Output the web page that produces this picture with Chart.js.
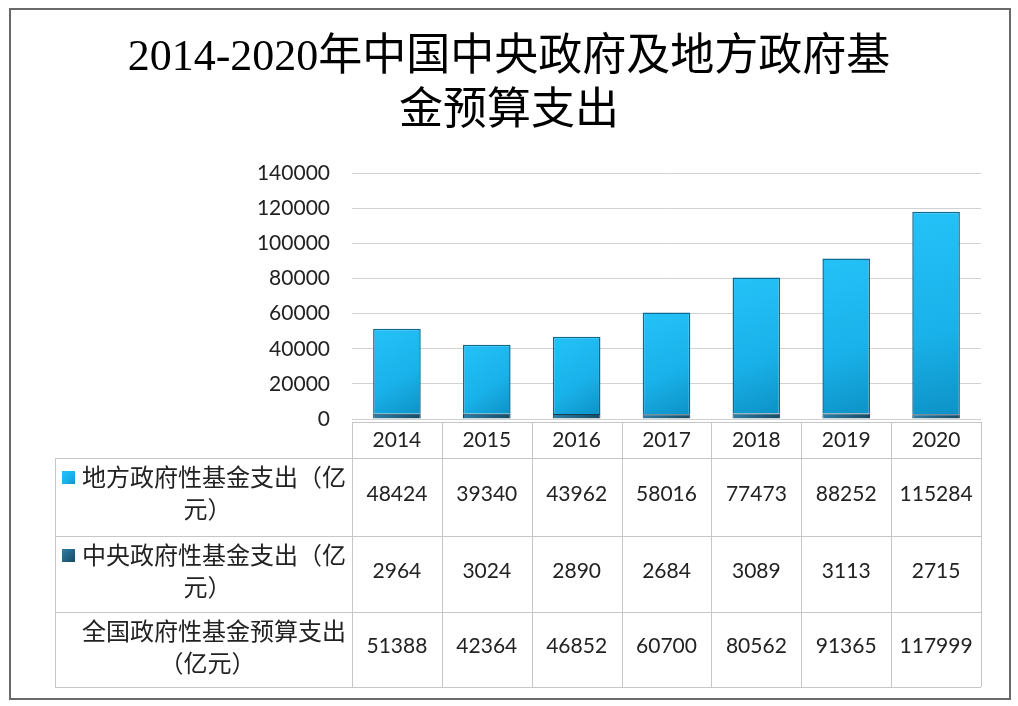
<!DOCTYPE html>
<html>
<head>
<meta charset="utf-8">
<script src="https://cdn.jsdelivr.net/npm/chart.js@4"></script>
<style>
  html, body { margin: 0; padding: 0; background: #ffffff; }
  #wrap { position: relative; width: 1018px; height: 706px; }
  #frame { position: absolute; left: 9px; top: 8px; width: 998px; height: 688px; border: 2px solid #6a6a6a; }
  canvas { position: absolute; left: 0; top: 0; }
</style>
</head>
<body>
<div id="wrap">
  <div id="frame"></div>
  <canvas id="c" width="1018" height="706"></canvas>
</div>
<script>
// ---- data ----
const years = ['2014', '2015', '2016', '2017', '2018', '2019', '2020'];
const localSpending = [48424, 39340, 43962, 58016, 77473, 88252, 115284];
const centralSpending = [2964, 3024, 2890, 2684, 3089, 3113, 2715];
const totalSpending = [51388, 42364, 46852, 60700, 80562, 91365, 117999];
const rowLabels = [
  ['地方政府性基金支出（亿', '元）'],
  ['中央政府性基金支出（亿', '元）'],
  ['全国政府性基金预算支出', '（亿元）']
];
const titleLines = ['2014-2020年中国中央政府及地方政府基', '金预算支出'];
const yMax = 140000;
const yStep = 20000;

// ---- styles ----
const numFont = "21px Lato, 'Noto Sans', sans-serif";
const cjkFont = "24px 'Noto Sans CJK SC', sans-serif";
const textColor = '#222222';
const tableLine = '#c6c6c6';

function localGradient(ctx, x0, y0, x1, y1) {
  const g = ctx.createLinearGradient(x0, y0, x1, y1);
  g.addColorStop(0, '#24c2f8');
  g.addColorStop(0.6, '#19b1e9');
  g.addColorStop(1, '#0d92c6');
  return g;
}
function centralGradient(ctx, x0, y0, x1, y1) {
  const g = ctx.createLinearGradient(x0, y0, x1, y1);
  g.addColorStop(0, '#2f7fa5');
  g.addColorStop(1, '#174a63');
  return g;
}

function barFill(kind) {
  return function (context) {
    const chart = context.chart;
    const xs = chart.scales.x, ys = chart.scales.y;
    if (!chart.chartArea || !xs || !ys || context.dataIndex === undefined) {
      return kind === 'local' ? '#1ab3ea' : '#1f5d7c';
    }
    const i = context.dataIndex;
    const cx = xs.getPixelForValue(i);
    const half = (chart.chartArea.right - chart.chartArea.left) / years.length * 0.53 / 2;
    let top, bottom;
    if (kind === 'local') {
      top = ys.getPixelForValue(localSpending[i] + centralSpending[i]);
      bottom = ys.getPixelForValue(centralSpending[i]);
      return localGradient(chart.ctx, cx - half, top, cx + half, bottom);
    }
    top = ys.getPixelForValue(centralSpending[i]);
    bottom = ys.getPixelForValue(0);
    return centralGradient(chart.ctx, cx - half, top, cx + half, bottom);
  };
}

const tablePlugin = {
  id: 'dataTable',
  afterDraw(chart) {
    const ctx = chart.ctx;
    const area = chart.chartArea;
    const xs = chart.scales.x;
    const colW = (area.right - area.left) / years.length;
    const tableLeft = 55;
    const headTop = area.bottom + 3;
    const rowTops = [headTop, headTop + 36, headTop + 114, headTop + 190, headTop + 265];

    ctx.save();
    ctx.strokeStyle = tableLine;
    ctx.lineWidth = 1;
    ctx.beginPath();
    ctx.moveTo(area.left, rowTops[0] + 0.5); ctx.lineTo(area.right, rowTops[0] + 0.5);
    for (let r = 1; r < rowTops.length; r++) {
      ctx.moveTo(tableLeft, rowTops[r] + 0.5); ctx.lineTo(area.right, rowTops[r] + 0.5);
    }
    ctx.moveTo(tableLeft + 0.5, rowTops[1]); ctx.lineTo(tableLeft + 0.5, rowTops[4]);
    for (let i = 0; i <= years.length; i++) {
      const x = Math.round(area.left + i * colW) + 0.5;
      ctx.moveTo(x, rowTops[0]); ctx.lineTo(x, rowTops[4]);
    }
    ctx.stroke();

    ctx.fillStyle = textColor;
    ctx.textAlign = 'center';
    ctx.textBaseline = 'middle';
    ctx.font = numFont;
    years.forEach((y, i) => {
      ctx.fillText(y, xs.getPixelForValue(i), (rowTops[0] + rowTops[1]) / 2);
    });

    const rows = [localSpending, centralSpending, totalSpending];
    rows.forEach((vals, r) => {
      const cy = (rowTops[r + 1] + rowTops[r + 2]) / 2 - 3;
      vals.forEach((v, i) => {
        ctx.fillText(String(v), xs.getPixelForValue(i), cy);
      });
    });

    ctx.font = cjkFont;
    const labelCenter = (tableLeft + area.left) / 2;
    rowLabels.forEach((lines, r) => {
      const top = rowTops[r + 1];
      const y1 = top + 19, y2 = top + 51;
      if (r < 2) {
        const mx = 62, my = y1 - 6, ms = 13;
        ctx.fillStyle = r === 0 ? localGradient(ctx, mx, my, mx + ms, my + ms)
                                : centralGradient(ctx, mx, my, mx + ms, my + ms);
        ctx.fillRect(mx, my, ms, ms);
      }
      ctx.fillStyle = textColor;
      ctx.textAlign = 'left';
      ctx.fillText(lines[0], 82, y1);
      ctx.textAlign = 'center';
      ctx.fillText(lines[1], labelCenter + 4, y2);
    });
    ctx.restore();
  }
};

new Chart(document.getElementById('c'), {
  type: 'bar',
  data: {
    labels: years,
    datasets: [
      {
        label: '中央政府性基金支出（亿元）',
        data: centralSpending,
        backgroundColor: barFill('central'),
        borderColor: '#163f55',
        borderWidth: 1,
        stack: 's'
      },
      {
        label: '地方政府性基金支出（亿元）',
        data: localSpending,
        backgroundColor: barFill('local'),
        borderColor: '#0e6a90',
        borderWidth: 1.5,
        stack: 's'
      }
    ]
  },
  options: {
    responsive: false,
    animation: false,
    devicePixelRatio: 1,
    layout: { padding: { top: 0, bottom: 287, left: 0, right: 0 } },
    datasets: { bar: { categoryPercentage: 1, barPercentage: 0.53 } },
    plugins: {
      legend: { display: false },
      tooltip: { enabled: false },
      title: {
        display: true,
        text: titleLines,
        color: '#000000',
        font: { family: "'Liberation Serif', 'Noto Sans CJK SC', serif", size: 44, weight: 'normal', lineHeight: 1.23 },
        padding: { top: 31, bottom: 34 }
      }
    },
    scales: {
      x: {
        stacked: true,
        grid: { display: false },
        border: { display: false },
        ticks: { display: false },
        afterFit(s) { s.height = 0; }
      },
      y: {
        stacked: true,
        min: 0,
        max: yMax,
        border: { display: false },
        grid: { color: '#d2d2d2', drawTicks: false, lineWidth: 1 },
        ticks: {
          stepSize: yStep,
          padding: 22,
          color: textColor,
          font: { family: "Lato, 'Noto Sans', sans-serif", size: 21 },
          callback: (v) => String(v)
        },
        afterFit(s) { s.width = 352; }
      },
      yr: {
        type: 'linear',
        position: 'right',
        display: true,
        grid: { display: false },
        border: { display: false },
        ticks: { display: false },
        afterFit(s) { s.width = 37; }
      }
    }
  },
  plugins: [tablePlugin]
});
</script>
</body>
</html>
